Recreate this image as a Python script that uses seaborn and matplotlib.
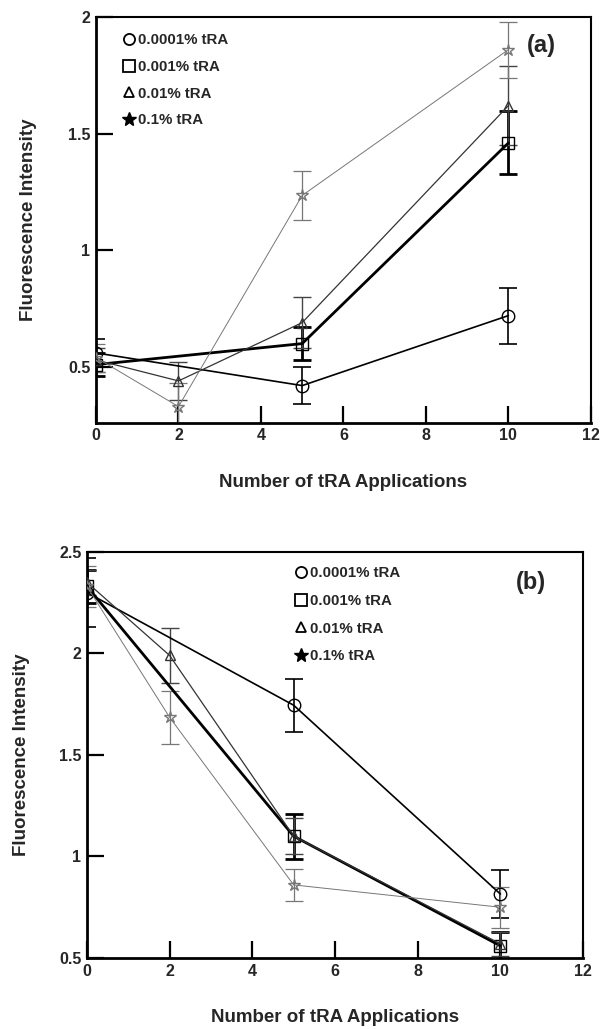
import matplotlib
matplotlib.use("Agg")
import matplotlib.pyplot as plt
import seaborn as sns
import pandas as pd
from matplotlib.lines import Line2D
from matplotlib.ticker import FixedLocator, FuncFormatter

# panel (a)
a_circle_x = [0, 5, 10]
a_circle_y = [0.56, 0.42, 0.72]
a_circle_err = [0.06, 0.08, 0.12]
a_square_x = [0, 5, 10]
a_square_y = [0.51, 0.60, 1.46]
a_square_err = [0.05, 0.07, 0.135]
a_tri_x = [0, 2, 5, 10]
a_tri_y = [0.53, 0.44, 0.69, 1.62]
a_tri_err = [0.05, 0.08, 0.11, 0.17]
a_star_x = [0, 2, 5, 10]
a_star_y = [0.54, 0.33, 1.235, 1.86]
a_star_err = [0.06, 0.10, 0.105, 0.12]

# panel (b)
b_circle_x = [0, 5, 10]
b_circle_y = [2.30, 1.745, 0.815]
b_circle_err = [0.17, 0.13, 0.12]
b_square_x = [0, 5, 10]
b_square_y = [2.33, 1.10, 0.56]
b_square_err = [0.08, 0.11, 0.07]
b_tri_x = [0, 2, 5, 10]
b_tri_y = [2.35, 1.99, 1.10, 0.57]
b_tri_err = [0.06, 0.135, 0.09, 0.06]
b_star_x = [0, 2, 5, 10]
b_star_y = [2.33, 1.685, 0.86, 0.75]
b_star_err = [0.10, 0.13, 0.08, 0.10]

labels = ["0.0001% tRA", "0.001% tRA", "0.01% tRA", "0.1% tRA"]
x_ticks = [0, 2, 4, 6, 8, 10, 12]

sns.set_style("white")
plt.rcParams['font.family'] = ['Liberation Sans', 'DejaVu Sans']
plt.rcParams['font.weight'] = 'bold'

# marker, line width, line colour, marker size, error colour, error width
styles = [
    ("o", 1.2, "black", 9, "black", 1.2),
    ("s", 2.0, "black", 9, "black", 2.0),
    ("^", 0.9, "#333333", 7, "#444444", 1.0),
    ("*", 0.7, "#777777", 9, "#777777", 0.9),
]


def draw_panel(ax, series, ylim, yticks, legend_anchor, tag, tag_pos, ylabelpad,
               spacing):
    for (xs, ys, errs), (mk, lw, col, ms, ecol, elw) in zip(series, styles):
        df = pd.DataFrame({"x": xs, "y": ys})
        ax.errorbar(xs, ys, yerr=errs, fmt="none", ecolor=ecol,
                    elinewidth=elw, capsize=6.5, capthick=elw, zorder=2)
        sns.lineplot(data=df, x="x", y="y", ax=ax, color=col, linewidth=lw,
                     marker=mk, markersize=ms, markerfacecolor="none",
                     markeredgecolor=col, markeredgewidth=1.0, zorder=3)
    ax.set_xlim(0, 12)
    ax.set_ylim(*ylim)
    ax.xaxis.set_major_locator(FixedLocator(x_ticks))
    ax.yaxis.set_major_locator(FixedLocator(yticks))
    ax.yaxis.set_major_formatter(FuncFormatter(lambda v, p: f"{v:g}"))
    ax.tick_params(direction="in", length=12, width=1.6, labelsize=11.5,
                   pad=4, color="black", bottom=True, left=True,
                   top=False, right=False)
    for lab in ax.get_xticklabels() + ax.get_yticklabels():
        lab.set_fontweight("bold")
    for side in ["left", "bottom"]:
        ax.spines[side].set_linewidth(2.0)
    for side in ["top", "right"]:
        ax.spines[side].set_linewidth(1.5)
    for sp in ax.spines.values():
        sp.set_color("black")
    ax.set_xlabel("Number of tRA Applications", fontsize=13.5, fontweight="bold",
                  labelpad=22)
    ax.set_ylabel("Fluorescence Intensity", fontsize=13.5, fontweight="bold",
                  labelpad=ylabelpad)
    ax.text(tag_pos[0], tag_pos[1], tag, transform=ax.transAxes, fontsize=17,
            fontweight="bold", ha="center", va="center")

    handles = [
        Line2D([], [], linestyle="none", marker="o", markersize=8,
               markerfacecolor="none", markeredgecolor="black", markeredgewidth=1.3),
        Line2D([], [], linestyle="none", marker="s", markersize=8,
               markerfacecolor="none", markeredgecolor="black", markeredgewidth=1.3),
        Line2D([], [], linestyle="none", marker="^", markersize=7,
               markerfacecolor="none", markeredgecolor="black", markeredgewidth=1.3),
        Line2D([], [], linestyle="none", marker="*", markersize=10,
               markerfacecolor="black", markeredgecolor="black"),
    ]
    ax.legend(handles, labels, loc="upper left", bbox_to_anchor=legend_anchor,
              frameon=False, handlelength=0.6, handletextpad=0.3,
              labelspacing=spacing, borderaxespad=0,
              prop={"weight": "bold", "size": 10.8})


fig = plt.figure(figsize=(6.02, 10.29), dpi=100)
ax1 = fig.add_axes([0.1595, 0.589, 0.822, 0.3945])
ax2 = fig.add_axes([0.1445, 0.069, 0.824, 0.3946])

draw_panel(ax1,
           [(a_circle_x, a_circle_y, a_circle_err),
            (a_square_x, a_square_y, a_square_err),
            (a_tri_x, a_tri_y, a_tri_err),
            (a_star_x, a_star_y, a_star_err)],
           (0.26, 2.0), [0.5, 1, 1.5, 2], (0.045, 0.975), "(a)", (0.90, 0.93), 22,
           0.85)

draw_panel(ax2,
           [(b_circle_x, b_circle_y, b_circle_err),
            (b_square_x, b_square_y, b_square_err),
            (b_tri_x, b_tri_y, b_tri_err),
            (b_star_x, b_star_y, b_star_err)],
           (0.5, 2.5), [0.5, 1, 1.5, 2, 2.5], (0.41, 0.98), "(b)", (0.895, 0.925), 21,
           0.92)

fig.savefig("out.png", dpi=100)
